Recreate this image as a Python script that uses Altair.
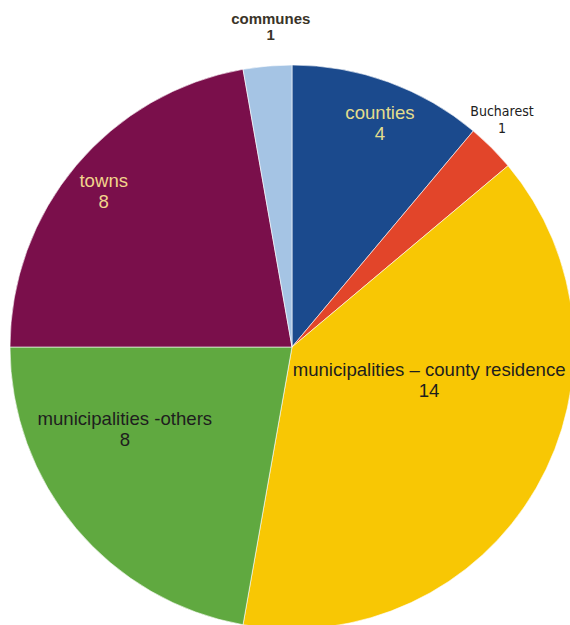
import math
import altair as alt
import pandas as pd

# Categories and counts, clockwise from twelve o'clock
categories = [
    "counties",
    "Bucharest",
    "municipalities \u2013 county residence",
    "municipalities -others",
    "towns",
    "communes",
]
values = [4, 1, 14, 8, 8, 1]
slice_colors = ["#1B4A8D", "#E2452A", "#F8C704", "#60A940", "#7A0F4B", "#A5C4E4"]

# Label layout: angle (degrees clockwise from top) and distance from the pie
# centre of each label's first line
label_angle = [20.6, 41.8, 99.5, 246.7, 311.4, 356.3]
label_radius = [250, 315, 139, 182, 251, 329]
label_color = ["#E3DD8C", "#202020", "#1E1E1E", "#1E1E1E", "#F2D48C", "#3A3428"]

CX, CY, R = 292, 347, 282

df = pd.DataFrame({
    "category": categories,
    "value": values,
    "idx": list(range(len(categories))),
})

lab = pd.DataFrame({
    "category": categories,
    "value": values,
    "color": label_color,
})
lab["lx"] = [CX + r * math.sin(math.radians(a)) for a, r in zip(label_angle, label_radius)]
lab["ly"] = [CY - r * math.cos(math.radians(a)) for a, r in zip(label_angle, label_radius)]

pie = alt.Chart(df).mark_arc(outerRadius=R, stroke="#ffffff", strokeWidth=0.6).encode(
    theta=alt.Theta("value:Q", stack=True),
    order=alt.Order("idx:Q"),
    color=alt.Color(
        "category:N",
        scale=alt.Scale(domain=categories, range=slice_colors),
        legend=None,
    ),
    x=alt.value(CX),
    y=alt.value(CY),
)

base_text = alt.Chart(lab).transform_calculate(
    text="datum.category + '\\n' + datum.value"
)

def text_layer(names, **mark_kw):
    return base_text.transform_filter(
        alt.FieldOneOfPredicate(field="category", oneOf=names)
    ).mark_text(
        align="center", baseline="middle", lineBreak="\n", **mark_kw
    ).encode(
        x=alt.X("lx:Q", scale=None),
        y=alt.Y("ly:Q", scale=None),
        text="text:N",
        color=alt.Color("color:N", scale=None),
    )

main_labels = text_layer(
    [categories[0], categories[2], categories[3], categories[4]],
    font="Liberation Sans", fontSize=18.6, lineHeight=21,
)
bucharest_label = text_layer(
    [categories[1]],
    font="DejaVu Sans Condensed, DejaVu Sans, sans-serif", fontSize=14, lineHeight=17,
)
communes_label = text_layer(
    [categories[5]],
    font="Liberation Sans", fontSize=15, fontWeight="bold", lineHeight=16,
)

chart = alt.layer(pie, main_labels, bucharest_label, communes_label).properties(
    width=570,
    height=625,
    autosize=alt.AutoSizeParams(type="none"),
    padding=0,
    background="#ffffff",
).configure_view(stroke=None)

chart.save("out.html", embed_options={"renderer": "svg", "actions": False})
